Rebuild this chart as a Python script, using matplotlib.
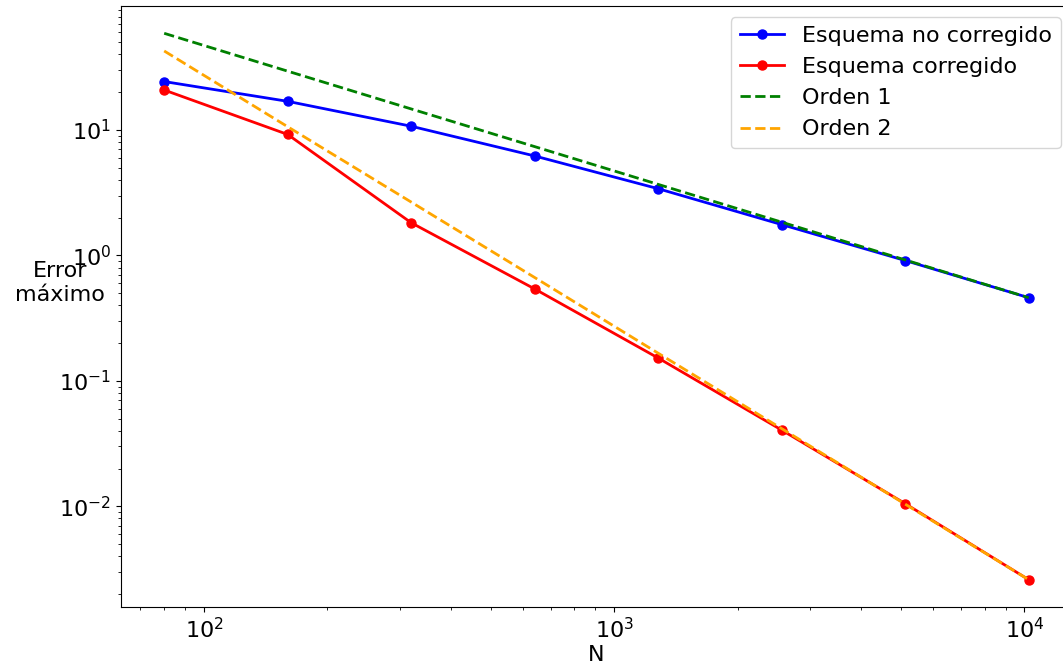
import numpy as np
import matplotlib
matplotlib.use("Agg")
from matplotlib import pyplot as plt

# datos
N = [80, 160, 320, 640, 1280, 2560, 5120, 10240]
err_no_corr = [24.3, 16.9, 10.7, 6.2, 3.4, 1.76, 0.91, 0.46]
err_corr = [20.8, 9.2, 1.82, 0.54, 0.152, 0.0405, 0.0105, 0.0026]
orden1 = [58.9, 29.4, 14.7, 7.36, 3.68, 1.84, 0.92, 0.46]
orden2 = [42.6, 10.6, 2.66, 0.666, 0.166, 0.0416, 0.0104, 0.0026]

plt.rcParams['font.size'] = 16

fig = plt.figure(figsize=(10.63, 6.65), dpi=100)
ax = fig.add_axes([0.1138, 0.0872, 0.8946, 0.9038])

ax.loglog(N, err_no_corr, 'o-', color='blue', lw=2, ms=6.5, label='Esquema no corregido')
ax.loglog(N, err_corr, 'o-', color='red', lw=2, ms=6.5, label='Esquema corregido')
ax.loglog(N, orden1, '--', color='green', lw=2, label='Orden 1')
ax.loglog(N, orden2, '--', color='orange', lw=2, label='Orden 2')

ax.set_xlabel('N', labelpad=2)
ax.set_ylabel('Error\nmáximo', rotation=0, ha='center', va='center')
ax.yaxis.set_label_coords(-0.064, 0.539)
ax.legend(loc='upper right')

plt.savefig('out.png', dpi=100)
